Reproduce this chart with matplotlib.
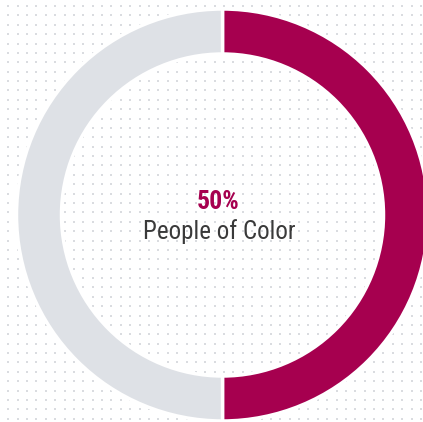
import numpy as np
import matplotlib
matplotlib.use("Agg")
import matplotlib.pyplot as plt

labels = ["People of Color", "Other"]
values = [50, 50]
colors = ["#A6004F", "#DEE1E6"]
center_value = "50%"
center_label = "People of Color"

W, H = 423, 422
fig = plt.figure(figsize=(W / 100, H / 100), dpi=100)
ax = fig.add_axes([0, 0, 1, 1])

# dotted background
step = 9.38
xs = np.arange(8.3, W, step)
ys = np.arange(6.0, H, step)
gx, gy = np.meshgrid(xs, ys)
ax.scatter(gx.ravel(), H - gy.ravel(), s=1.8, marker="s", c="#DADCE0",
           linewidths=0, zorder=0)

cx, cy = 222.5, H - 215
R = 206
ax.pie(values, colors=colors, startangle=90, counterclock=False,
       center=(cx, cy), radius=R, frame=True,
       wedgeprops=dict(width=45, edgecolor="white", linewidth=2.5))
ax.set_xlim(0, W)
ax.set_ylim(0, H)
ax.set_aspect("equal")
ax.axis("off")

fam = ["Roboto Condensed", "DejaVu Sans"]
ax.text(218, H - 202, center_value, ha="center", va="center", fontsize=18.5,
        fontweight="bold", color=colors[0], family=fam)
ax.text(219, H - 232, center_label, ha="center", va="center", fontsize=18,
        fontweight="normal", color="#3A3A3A", family=fam)

fig.savefig("out.png", dpi=100)
